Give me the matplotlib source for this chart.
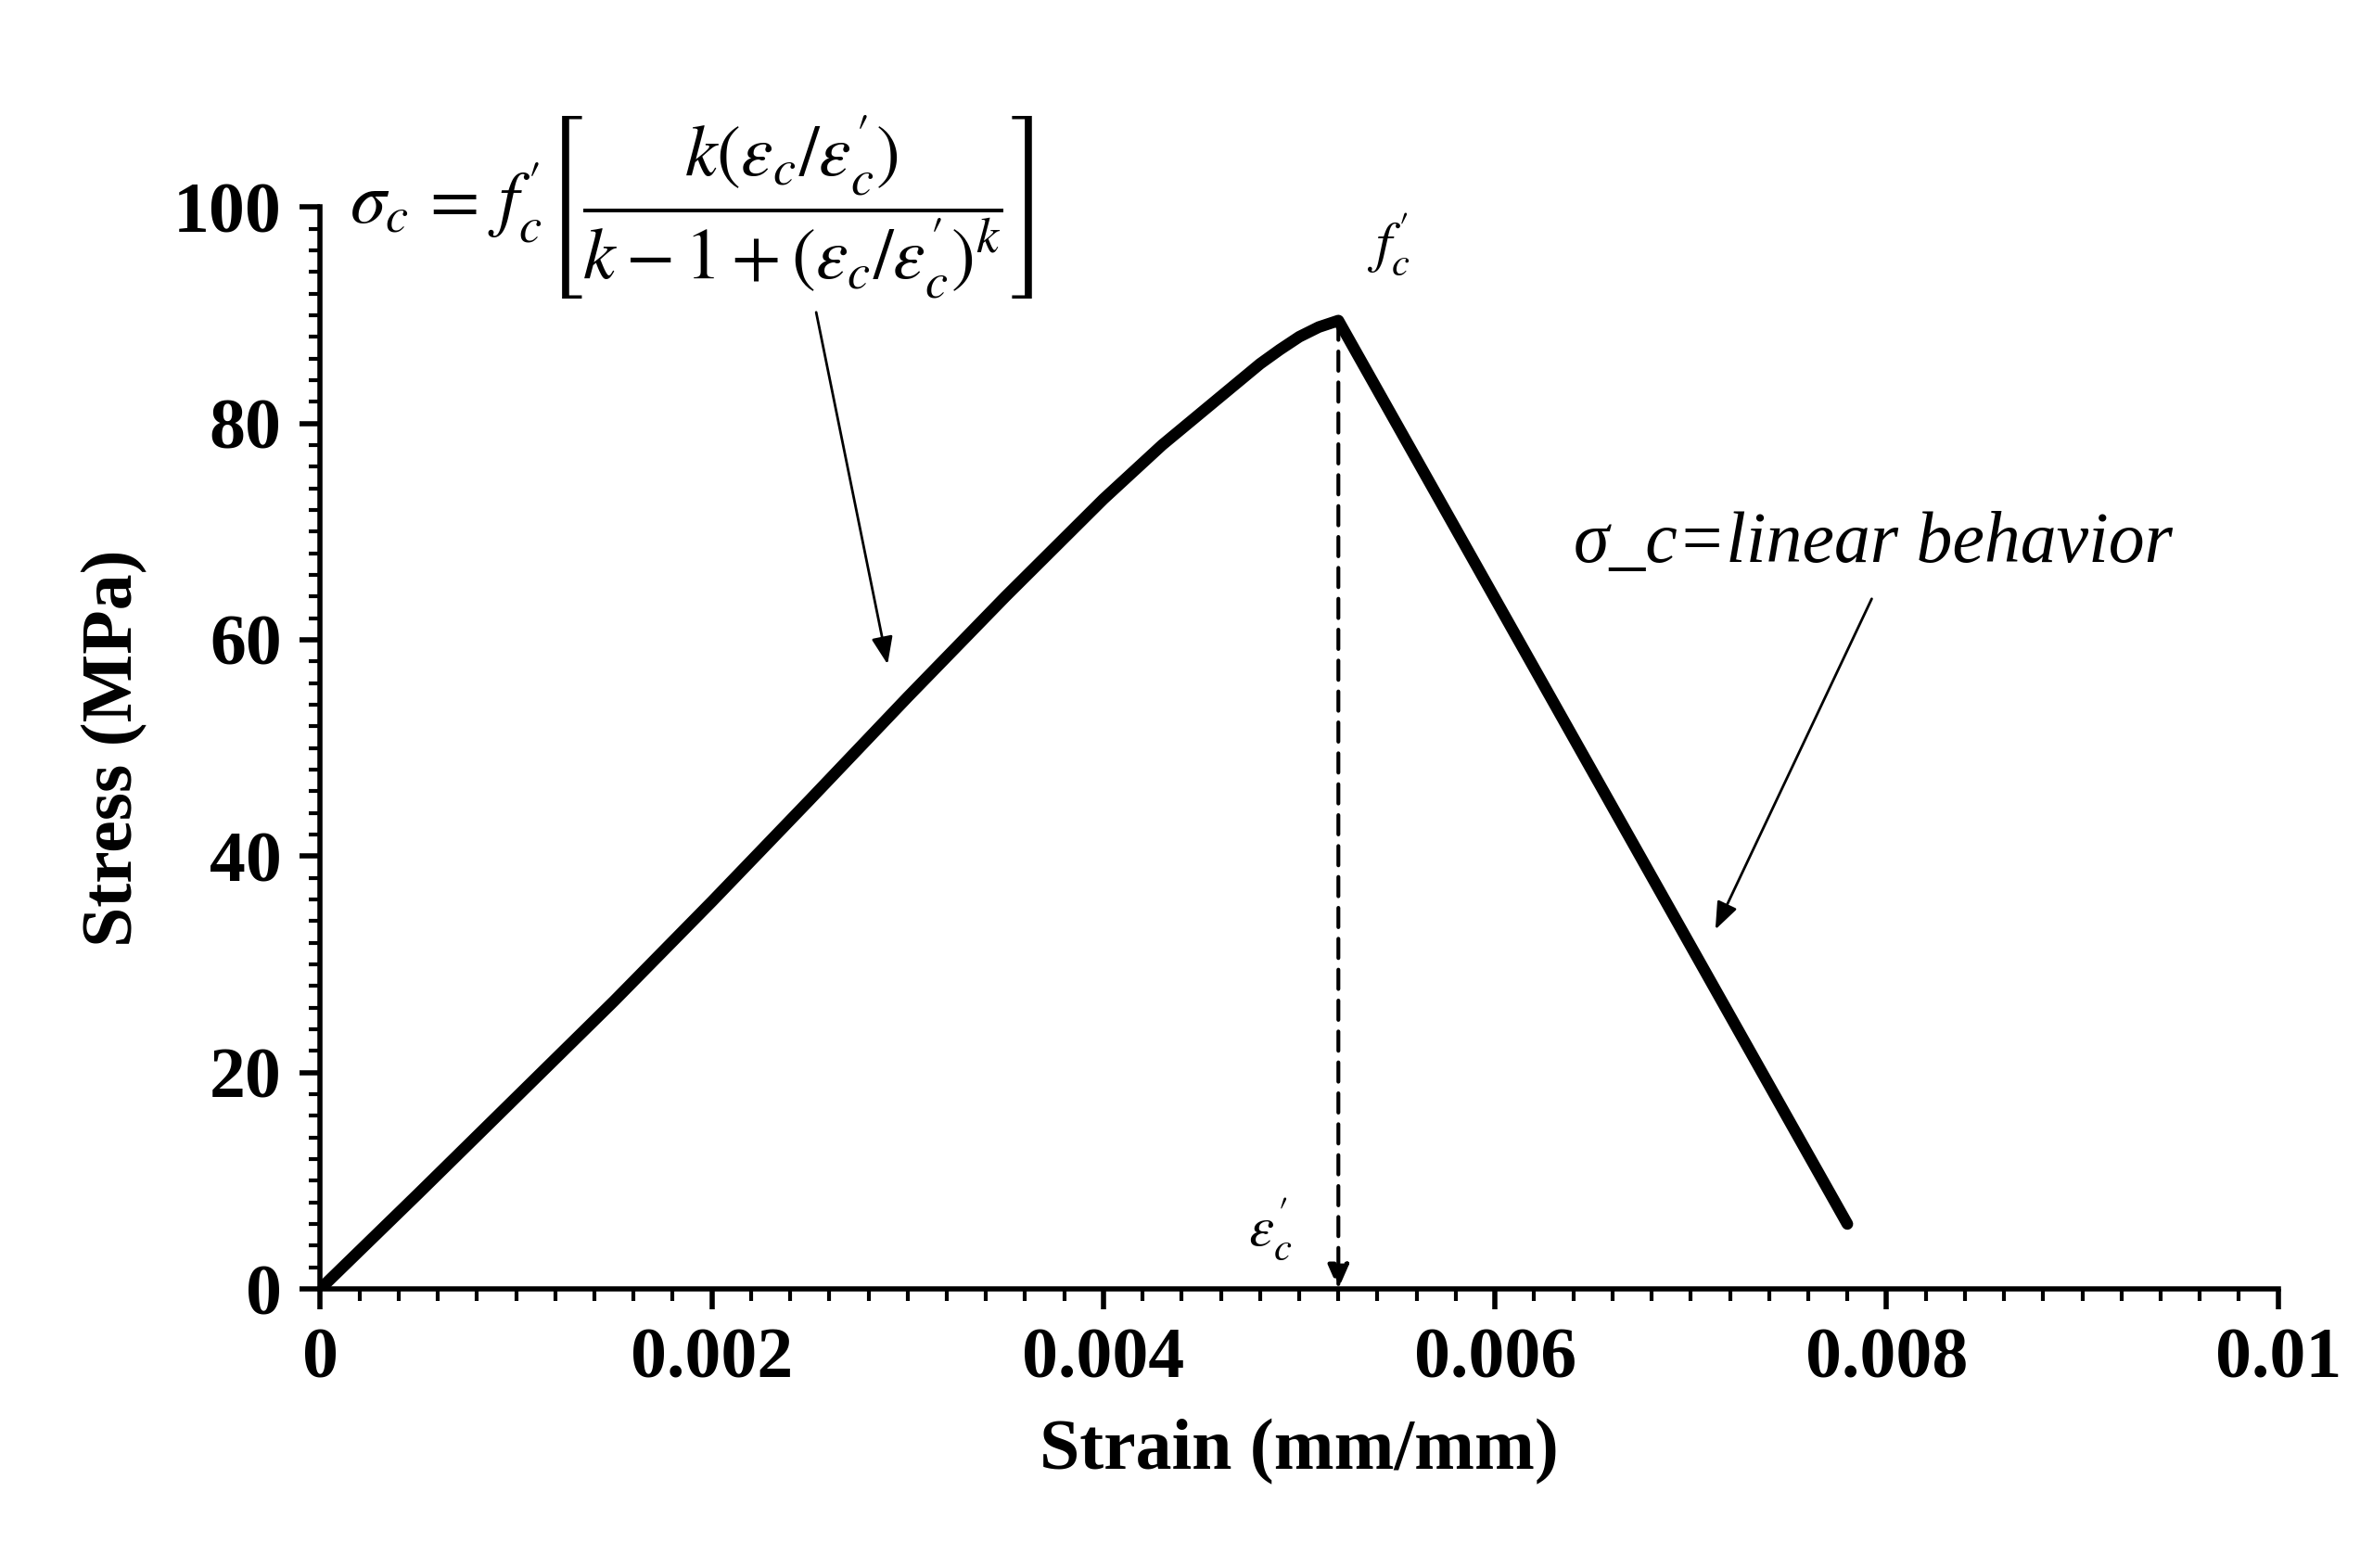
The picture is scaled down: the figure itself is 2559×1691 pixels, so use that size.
import numpy as np
import matplotlib
matplotlib.use('Agg')
import matplotlib.pyplot as plt
from matplotlib.ticker import MultipleLocator

plt.rcParams['mathtext.fontset'] = 'stix'
plt.rcParams['font.family'] = 'Liberation Serif'

# ---------------- data ----------------
strain = [0.0, 0.0005, 0.001, 0.0015, 0.002, 0.0025, 0.003, 0.0035, 0.004,
          0.0043, 0.0045, 0.0047, 0.0048, 0.0049, 0.005, 0.0051, 0.0052, 0.0078]
stress = [0.0, 8.8, 17.7, 26.6, 35.8, 45.2, 54.7, 64.0, 73.0,
          78.0, 81.0, 84.0, 85.5, 86.8, 88.0, 88.9, 89.5, 6.0]
peak_strain = 0.0052
peak_stress = 89.5
xticks = [0, 0.002, 0.004, 0.006, 0.008, 0.01]
xticklabels = ['0', '0.002', '0.004', '0.006', '0.008', '0.01']
yticks = [0, 20, 40, 60, 80, 100]

# ---------------- figure ----------------
fig = plt.figure(figsize=(25.59, 16.91), dpi=100)
ax = fig.add_axes([0.135, 0.178, 0.825, 0.69])
ax.set_xlim(0, 0.01)
ax.set_ylim(0, 100)

ax.plot(strain, stress, color='k', lw=9, solid_capstyle='round', solid_joinstyle='round')

# dashed drop line to the peak strain
ax.annotate('', xy=(peak_strain, 0), xytext=(peak_strain, peak_stress),
            arrowprops=dict(arrowstyle='-|>,head_length=1.6,head_width=0.7', color='k',
                            lw=3, linestyle=(0, (5, 3)), shrinkA=0, shrinkB=0))

# spines / ticks
for s in ['top', 'right']:
    ax.spines[s].set_visible(False)
for s in ['left', 'bottom']:
    ax.spines[s].set_linewidth(4)
ax.set_xticks(xticks)
ax.set_xticklabels(xticklabels)
ax.set_yticks(yticks)
ax.xaxis.set_minor_locator(MultipleLocator(0.0002))
ax.yaxis.set_minor_locator(MultipleLocator(2))
ax.tick_params(axis='both', which='major', direction='out', length=16, width=4, labelsize=56, pad=14)
ax.tick_params(axis='both', which='minor', direction='out', length=9, width=3)
for lab in ax.get_xticklabels() + ax.get_yticklabels():
    lab.set_fontweight('bold')
ax.set_xlabel('Strain (mm/mm)', fontsize=56, fontweight='bold', labelpad=20)
ax.set_ylabel('Stress (MPa)', fontsize=56, fontweight='bold', labelpad=20)

# equation and labels
ax.text(0.00015, 100, r'$\sigma_c\,=\,f_c^{\prime}\left[\dfrac{k(\varepsilon_c/\varepsilon_c^{\prime})}{k-1+(\varepsilon_c/\varepsilon_c^{\prime})^k}\right]$',
        fontsize=56, va='center', ha='left', clip_on=False)
ax.text(0.00535, 96.5, r'$f_c^{\prime}$', fontsize=44, ha='left', va='center')
ax.text(0.00485, 5.5, r'$\varepsilon_c^{\prime}$', fontsize=44, ha='center', va='center')
ax.text(0.0064, 68.8, 'σ_c=linear behavior', fontsize=56, style='italic', ha='left', va='center')

arrow = dict(arrowstyle='-|>,head_length=1.8,head_width=0.7', color='k', lw=2)
ax.annotate('', xy=(0.0029, 57.5), xytext=(0.00253, 90.5), arrowprops=arrow)
ax.annotate('', xy=(0.00712, 33.0), xytext=(0.00793, 64.0), arrowprops=arrow)

plt.savefig('out.png', dpi=100)
